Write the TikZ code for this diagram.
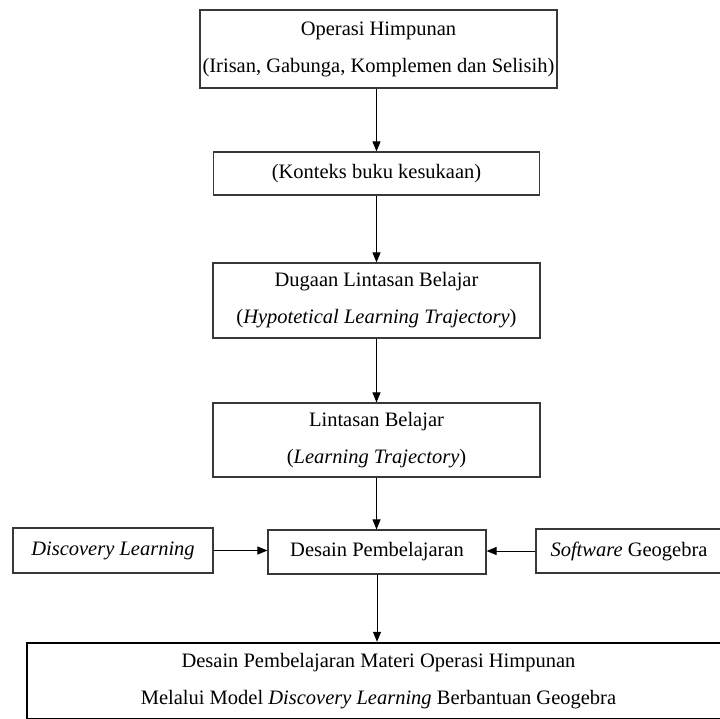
\documentclass[tikz,border=0pt]{standalone}
\usepackage{fontspec}
\setmainfont{Liberation Serif}
\usetikzlibrary{arrows.meta}
\begin{document}
\begin{tikzpicture}[x=1pt,y=-1pt,
  box/.style={draw=black!78, line width=1.2pt, inner sep=0pt, align=center,
    font=\fontsize{20.5}{37}\selectfont},
  bigbox/.style={box, draw=black, line width=2.4pt},
  arr/.style={draw=black, line width=1pt, -{Triangle[length=10pt,width=8pt]}}]
\useasboundingbox (0,0) rectangle (720,718);
\node[box, minimum width=357pt, minimum height=78pt] (top) at (378.5,49)
  {Operasi Himpunan\\(Irisan, Gabunga, Komplemen dan Selisih)};
\node[box, minimum width=326pt, minimum height=43pt] (konteks) at (376.5,173.5)
  {(Konteks buku kesukaan)};
\node[box, minimum width=327pt, minimum height=75pt] (dugaan) at (376.5,300.5)
  {Dugaan Lintasan Belajar\\(\textit{Hypotetical Learning Trajectory})};
\node[box, minimum width=327pt, minimum height=74pt] (lintasan) at (376.5,440)
  {Lintasan Belajar\\(\textit{Learning Trajectory})};
\node[box, minimum width=218pt, minimum height=44pt] (desain) at (377,552)
  {Desain Pembelajaran};
\node[box, minimum width=200pt, minimum height=45pt] (discovery) at (113,550.5)
  {\textit{Discovery Learning}};
\node[box, minimum width=186pt, minimum height=44pt] (software) at (629,551)
  {\textit{Software} Geogebra};
\node[bigbox, minimum width=703pt, minimum height=76pt] (final) at (378.5,681)
  {Desain Pembelajaran Materi Operasi Himpunan\\Melalui Model \textit{Discovery Learning} Berbantuan Geogebra};
\draw[arr] (top.south -| konteks) -- (konteks.north);
\draw[arr] (konteks.south) -- (dugaan.north);
\draw[arr] (dugaan.south) -- (lintasan.north);
\draw[arr] (lintasan.south) -- (lintasan.south |- desain.north);
\draw[arr] (discovery.east) -- (discovery.east -| desain.west);
\draw[arr] (software.west) -- (software.west -| desain.east);
\draw[arr] (desain.south) -- (desain.south |- final.north);
\end{tikzpicture}
\end{document}
